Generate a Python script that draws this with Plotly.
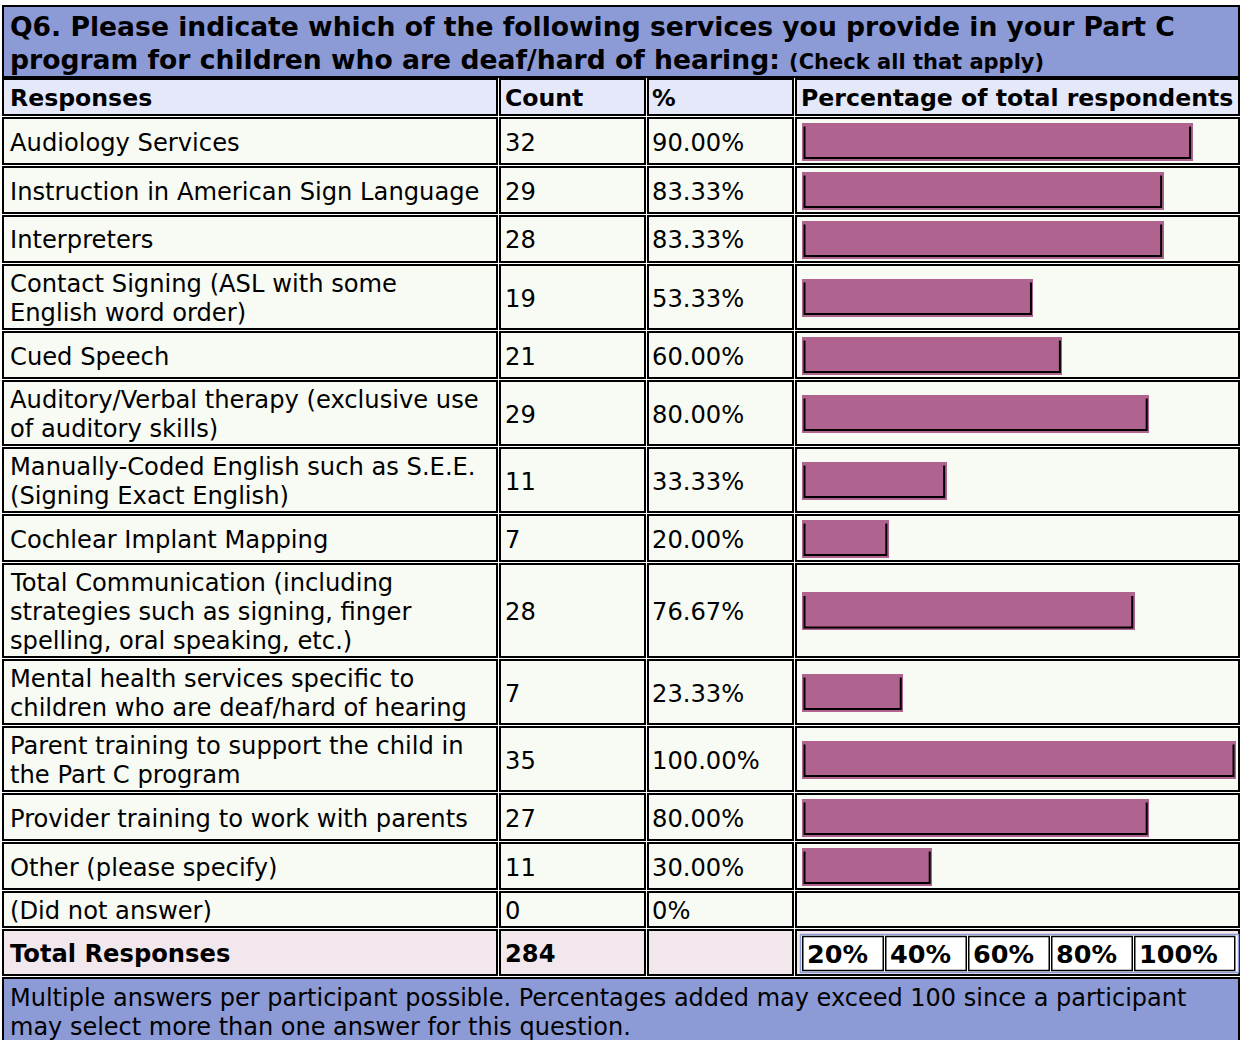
import plotly.graph_objects as go

W, H = 1241, 1040

# ---------------- data ----------------
title_line1 = "Q6. Please indicate which of the following services you provide in your Part C"
title_line2 = "program for children who are deaf/hard of hearing:"
title_note = "(Check all that apply)"
headers = ["Responses", "Count", "%", "Percentage of total respondents"]
responses = [
    "Audiology Services",
    "Instruction in American Sign Language",
    "Interpreters",
    "Contact Signing (ASL with some<br>English word order)",
    "Cued Speech",
    "Auditory/Verbal therapy (exclusive use<br>of auditory skills)",
    "Manually-Coded English such as S.E.E.<br>(Signing Exact English)",
    "Cochlear Implant Mapping",
    "Total Communication (including<br>strategies such as signing, finger<br>spelling, oral speaking, etc.)",
    "Mental health services specific to<br>children who are deaf/hard of hearing",
    "Parent training to support the child in<br>the Part C program",
    "Provider training to work with parents",
    "Other (please specify)",
    "(Did not answer)",
]
counts = [32, 29, 28, 19, 21, 29, 11, 7, 28, 7, 35, 27, 11, 0]
percents = [90.00, 83.33, 83.33, 53.33, 60.00, 80.00, 33.33, 20.00, 76.67, 23.33, 100.00, 80.00, 30.00, 0]
percent_labels = ["90.00%", "83.33%", "83.33%", "53.33%", "60.00%", "80.00%", "33.33%",
                  "20.00%", "76.67%", "23.33%", "100.00%", "80.00%", "30.00%", "0%"]
total_label = "Total Responses"
total_count = 284
scale_labels = ["20%", "40%", "60%", "80%", "100%"]
footer_lines = [
    "Multiple answers per participant possible. Percentages added may exceed 100 since a participant",
    "may select more than one answer for this question.",
]

# ---------------- style / layout ----------------
FONT = "DejaVu Sans"
FS = 24.2
LINE_H = 29
BLUE = "#8C9AD6"
HEAD_BG = "#E5E8F8"
ROW_BG = "#F8FAF4"
TOT_BG = "#F3E7EE"
BAR = "#B0638E"
TX_SHIFT = -3   # compensate annotation inner padding

cols = [(2, 498), (499, 646), (647, 794), (795, 1240)]
text_x = [11, 506, 653, 802]
BAR_X0, BAR_X1 = 802, 1236
BAR_H = 38

shapes = []
annotations = []


def px(x):
    return x / W


def py(y):
    return 1 - y / H


def cell(x0, x1, y0, y1, fill, lw=2, color="black"):
    shapes.append(dict(type="rect", xref="paper", yref="paper",
                       x0=px(x0 + lw / 2), x1=px(x1 - lw / 2),
                       y0=py(y0 + lw / 2), y1=py(y1 - lw / 2),
                       fillcolor=fill, line=dict(color=color, width=lw), layer="below"))


def text(x, y, s, bold=False, size=FS):
    if bold:
        s = "<b>" + s + "</b>"
    annotations.append(dict(xref="paper", yref="paper", x=px(x + TX_SHIFT), y=py(y), text=s,
                            showarrow=False, xanchor="left", yanchor="middle", align="left",
                            font=dict(family=FONT, size=size, color="#000000")))


# title band
cell(2, 1240, 5, 78, BLUE)
text(11, 26, title_line1, bold=True, size=26.6)
text(11, 59, title_line2 + " <span style='font-size:21px'>" + title_note + "</span>", bold=True, size=26.6)

# header row
top = 78
pitch = 39
for (c0, c1), tx, h in zip(cols, text_x, headers):
    cell(c0, c1, top, top + pitch - 1, HEAD_BG)
    text(tx, top + pitch / 2, h, bold=True, size=23.6)
top += pitch

# data rows
bar_y = []
bar_v = []
for lab, cnt, pv, pl in zip(responses, counts, percents, percent_labels):
    lines = lab.split("<br>")
    n = len(lines)
    p = LINE_H * n + 9
    if pv > 0:
        p = max(p, 49)
    for (c0, c1) in cols:
        cell(c0, c1, top, top + p - 1, ROW_BG)
    cy = top + p / 2
    for i, ln in enumerate(lines):
        text(text_x[0], cy + (i - (n - 1) / 2) * LINE_H + 1, ln)
    text(text_x[1], cy + 1, str(cnt))
    text(text_x[2], cy + 1, pl)
    if pv > 0:
        bar_y.append(cy)
        bar_v.append(pv)
    top += p

# total row
p = 48
for (c0, c1) in cols:
    cell(c0, c1, top, top + p - 1, TOT_BG)
cy = top + p / 2
text(text_x[0], cy + 1, total_label, bold=True)
text(text_x[1], cy + 1, str(total_count), bold=True)
# scale boxes
shapes.append(dict(type="rect", xref="paper", yref="paper", x0=px(800.5), x1=px(1238.5),
                   y0=py(934.5), y1=py(972.5), fillcolor="white",
                   line=dict(color=BLUE, width=1.5), layer="below"))
scale_edges = [802, 884.5, 967.5, 1050.5, 1133.5, 1236]
for i, lab in enumerate(scale_labels):
    x0 = scale_edges[i] + (0.5 if i else 0)
    x1 = scale_edges[i + 1] - 0.5
    shapes.append(dict(type="rect", xref="paper", yref="paper", x0=px(x0 + 0.75), x1=px(x1 - 0.75),
                       y0=py(936.5), y1=py(970.5), fillcolor="white",
                       line=dict(color="black", width=1.5), layer="below"))
    text(x0 + 5.5, cy + 1, lab, bold=True, size=25.5)
top += p

# footer
cell(2, 1240, top, H + 10, BLUE)
for i, ln in enumerate(footer_lines):
    text(11, 998 + i * LINE_H, ln, size=24)

# ---------------- traces ----------------
fig = go.Figure()
fig.add_trace(go.Bar(
    x=bar_v, y=bar_y, orientation="h", width=BAR_H, base=0,
    marker=dict(color=BAR, line=dict(width=0)), hoverinfo="skip", showlegend=False,
))
# inset dark edges (left, bottom, right) of each bar
off = 2.5 / (BAR_X1 - BAR_X0) * 100
lx, ly = [], []
for yv, v in zip(bar_y, bar_v):
    t = yv - BAR_H / 2 + 4
    b = yv + BAR_H / 2 - 2.5
    lx += [off, off, v - off, v - off, None]
    ly += [t, b, b, t, None]
fig.add_trace(go.Scatter(x=lx, y=ly, mode="lines", line=dict(color="black", width=2),
                         hoverinfo="skip", showlegend=False))

fig.update_layout(
    width=W, height=H, autosize=False,
    margin=dict(l=0, r=0, t=0, b=0, pad=0),
    paper_bgcolor="white", plot_bgcolor="rgba(0,0,0,0)",
    xaxis=dict(domain=[BAR_X0 / W, BAR_X1 / W], range=[0, 100], visible=False, fixedrange=True),
    yaxis=dict(domain=[0, 1], range=[H, 0], visible=False, fixedrange=True),
    shapes=shapes, annotations=annotations, bargap=0,
)
fig.write_html("out.html")
